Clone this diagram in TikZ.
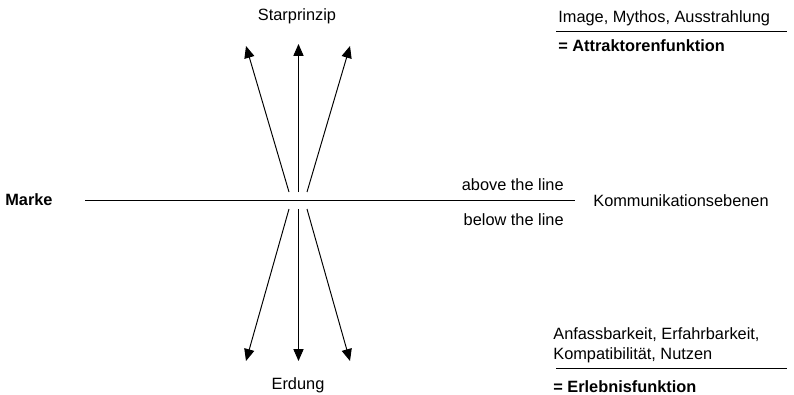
\documentclass[tikz,border=0pt]{standalone}
\usepackage{fontspec}
\setmainfont{Liberation Sans}
\usetikzlibrary{arrows.meta}

\begin{document}
\begin{tikzpicture}[x=0.02cm,y=-0.02cm,
  line/.style={draw=black,line width=0.55pt},
  arrow/.style={line,-{Triangle[length=6.8pt,width=5.8pt]}},
  label/.style={font=\fontsize{9.3}{11.4}\selectfont,text=black,inner sep=0pt},
  heading/.style={label,font=\fontsize{9.3}{11.4}\selectfont\bfseries},
]
\useasboundingbox (0,0) rectangle (794,395);
% axis labels
\node[heading,anchor=west] (marke) at (5,200) {Marke};
\node[label] (star) at (297,16) {Starprinzip};
\node[label] (erd) at (298,385) {Erdung};
\node[label,anchor=west] (ebenen) at (593,201) {Kommunikationsebenen};
\node[label,anchor=east] (above) at (564,185) {above the line};
\node[label,anchor=east] (below) at (564,220) {below the line};
% the line
\coordinate (l0) at (85,200.5);
\coordinate (l1) at (575,200.5);
\draw[line] (l0) -- (l1);
% arrows up and down
\coordinate (u1) at (289,192); \coordinate (t1) at (246,46);
\coordinate (u2) at (298.5,192); \coordinate (t2) at (298.5,44);
\coordinate (u3) at (307,192); \coordinate (t3) at (350,46);
\coordinate (d1) at (289,209); \coordinate (b1) at (246,361);
\coordinate (d2) at (298.5,209); \coordinate (b2) at (298.5,361);
\coordinate (d3) at (307,209); \coordinate (b3) at (350,361);
\foreach \i in {1,2,3} {
  \draw[arrow] (u\i) -- (t\i);
  \draw[arrow] (d\i) -- (b\i);
}
% functions on the right
\node[label,anchor=west] (image) at (558,18) {Image, Mythos, Ausstrahlung};
\coordinate (r0) at (556,31);
\coordinate (r1) at (787,31);
\draw[line] (r0) -- (r1);
\node[heading,anchor=west] (attr) at (558,46) {= Attraktorenfunktion};
\node[label,anchor=west,align=left] (nutzen) at (553,345)
  {Anfassbarkeit, Erfahrbarkeit,\\Kompatibilität, Nutzen};
\coordinate (s0) at (556,368);
\coordinate (s1) at (787,368);
\draw[line] (s0) -- (s1);
\node[heading,anchor=west] (erleb) at (553,387) {= Erlebnisfunktion};
\end{tikzpicture}
\end{document}
